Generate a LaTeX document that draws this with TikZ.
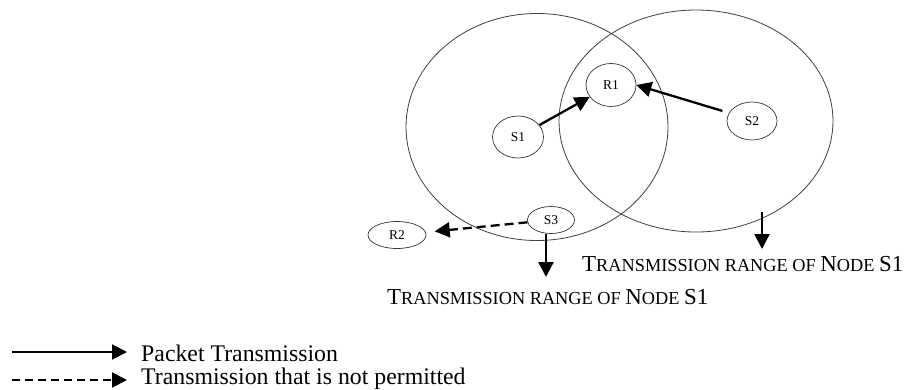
\documentclass[tikz,border=0pt]{standalone}
\usepackage{fontspec}
\setmainfont{Liberation Serif}
\usetikzlibrary{shapes.geometric,arrows.meta}
\newcommand\smc[1]{{\fontsize{18.3}{20}\selectfont #1}}
\begin{document}
\begin{tikzpicture}[x=1pt,y=-1pt,
  rangeell/.style={draw=black!75, line width=0.8pt, ellipse, inner sep=0pt},
  nd/.style={draw=black!80, line width=0.7pt, ellipse, inner sep=0pt, font=\fontsize{13.5}{15}\selectfont},
  arr/.style={line width=2.3pt, -{Triangle[length=15pt,width=15pt]}},
  darr/.style={arr, dash pattern=on 9pt off 5pt},
  lbl/.style={anchor=west, inner sep=0pt, font=\fontsize{22.9}{27}\selectfont},
  leg/.style={anchor=west, inner sep=0pt, font=\fontsize{23.8}{26}\selectfont}]
\useasboundingbox (0,0) rectangle (907,389);
% transmission ranges
\node[rangeell, minimum width=262, minimum height=227] (C1) at (537,127) {};
\node[rangeell, minimum width=274, minimum height=222] (C2) at (696,121) {};
% nodes
\node[nd, minimum width=50, minimum height=43] (R1) at (611,85) {R1};
\node[nd, minimum width=51, minimum height=42] (S1) at (518,137) {S1};
\node[nd, minimum width=50, minimum height=38] (S2) at (752,121) {S2};
\node[nd, minimum width=47, minimum height=27] (S3) at (551,220) {S3};
\node[nd, minimum width=58, minimum height=27] (R2) at (397,235) {R2};
% transmissions
\draw[arr] (S1) -- (R1);
\draw[arr] ([xshift=-8pt]S2.155) -- (R1.east);
\draw[darr, shorten >=9pt] (S3) -- (R2);
% range pointers
\coordinate (t1) at (546,277);
\draw[arr] (S3.south -| t1) -- (t1);
\coordinate (a2s) at (762,212);
\coordinate (a2e) at (762,249);
\draw[arr] (a2s) -- (a2e);
% range labels
\node[lbl] (L1) at (582,264) {T\smc{RANSMISSION RANGE OF }N\smc{ODE }S1};
\node[lbl] (L2) at (387,297) {T\smc{RANSMISSION RANGE OF }N\smc{ODE }S1};
% legend
\coordinate (l1a) at (12,352);
\coordinate (l1b) at (127,352);
\coordinate (l2a) at (12,380);
\coordinate (l2b) at (127,380);
\draw[arr, line width=2pt] (l1a) -- (l1b);
\draw[darr, line width=2pt, dash pattern=on 8pt off 5pt] (l2a) -- (l2b);
\node[leg] (T1) at (141,353) {Packet Transmission};
\node[leg] (T2) at (141,379) {Transmission that is not permitted};
\end{tikzpicture}
\end{document}
